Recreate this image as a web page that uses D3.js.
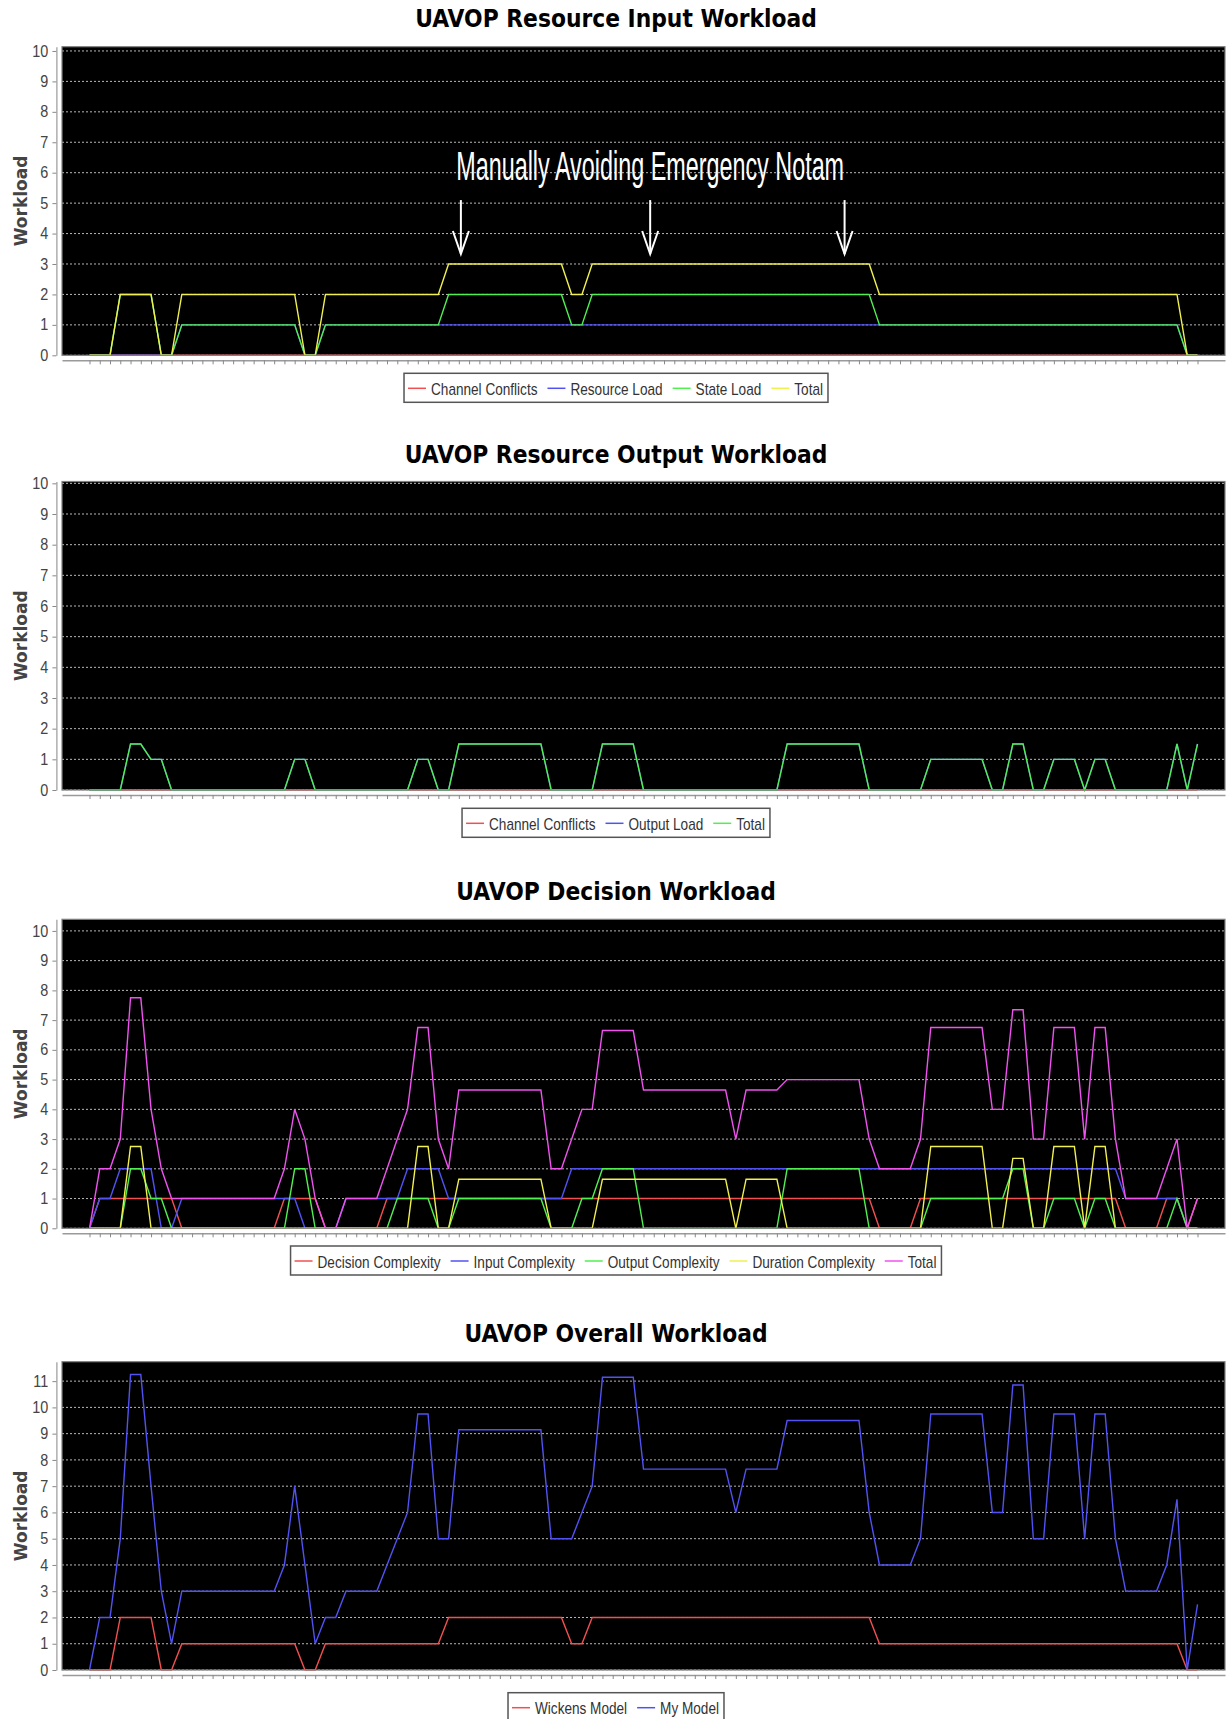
<!DOCTYPE html>
<html>
<head>
<meta charset="utf-8">
<script src="https://cdn.jsdelivr.net/npm/d3@7"></script>
<style>
  html, body { margin: 0; padding: 0; background: #fff; }
  svg { display: block; }
</style>
</head>
<body>
<svg id="chart" width="1231" height="1719"></svg>
<script>
// Simulation time steps (unlabelled categories on the x axis)
const steps = d3.range(109);

// ---- UAVOP Resource Input Workload ----
const inputChannelConflicts = [
  0,0,0,0,0,0,0,0,0,0, 0,0,0,0,0,0,0,0,0,0, 0,0,0,0,0,0,0,0,0,0,
  0,0,0,0,0,0,0,0,0,0, 0,0,0,0,0,0,0,0,0,0, 0,0,0,0,0,0,0,0,0,0,
  0,0,0,0,0,0,0,0,0,0, 0,0,0,0,0,0,0,0,0,0, 0,0,0,0,0,0,0,0,0,0,
  0,0,0,0,0,0,0,0,0,0, 0,0,0,0,0,0,0,0,0
];
const inputResourceLoad = [
  0,0,0,0,0,0,0,0,0,1,
  1,1,1,1,1,1,1,1,1,1,
  1,0,0,1,1,1,1,1,1,1,
  1,1,1,1,1,1,1,1,1,1,
  1,1,1,1,1,1,1,1,1,1,
  1,1,1,1,1,1,1,1,1,1,
  1,1,1,1,1,1,1,1,1,1,
  1,1,1,1,1,1,1,1,1,1,
  1,1,1,1,1,1,1,1,1,1,
  1,1,1,1,1,1,1,1,1,1,
  1,1,1,1,1,1,1,0,0
];
const inputStateLoad = [
  0,0,0,2,2,2,2,0,0,1,
  1,1,1,1,1,1,1,1,1,1,
  1,0,0,1,1,1,1,1,1,1,
  1,1,1,1,1,2,2,2,2,2,
  2,2,2,2,2,2,2,1,1,2,
  2,2,2,2,2,2,2,2,2,2,
  2,2,2,2,2,2,2,2,2,2,
  2,2,2,2,2,2,2,1,1,1,
  1,1,1,1,1,1,1,1,1,1,
  1,1,1,1,1,1,1,1,1,1,
  1,1,1,1,1,1,1,0,0
];
const inputTotal = [
  0,0,0,2,2,2,2,0,0,2,
  2,2,2,2,2,2,2,2,2,2,
  2,0,0,2,2,2,2,2,2,2,
  2,2,2,2,2,3,3,3,3,3,
  3,3,3,3,3,3,3,2,2,3,
  3,3,3,3,3,3,3,3,3,3,
  3,3,3,3,3,3,3,3,3,3,
  3,3,3,3,3,3,3,2,2,2,
  2,2,2,2,2,2,2,2,2,2,
  2,2,2,2,2,2,2,2,2,2,
  2,2,2,2,2,2,2,0,0
];

// ---- UAVOP Resource Output Workload ----
const outputChannelConflicts = [
  0,0,0,0,0,0,0,0,0,0, 0,0,0,0,0,0,0,0,0,0, 0,0,0,0,0,0,0,0,0,0,
  0,0,0,0,0,0,0,0,0,0, 0,0,0,0,0,0,0,0,0,0, 0,0,0,0,0,0,0,0,0,0,
  0,0,0,0,0,0,0,0,0,0, 0,0,0,0,0,0,0,0,0,0, 0,0,0,0,0,0,0,0,0,0,
  0,0,0,0,0,0,0,0,0,0, 0,0,0,0,0,0,0,0,0
];
const outputLoad = [
  0,0,0,0,1.5,1.5,1,1,0,0,
  0,0,0,0,0,0,0,0,0,0,
  1,1,0,0,0,0,0,0,0,0,
  0,0,1,1,0,0,1.5,1.5,1.5,1.5,
  1.5,1.5,1.5,1.5,1.5,0,0,0,0,0,
  1.5,1.5,1.5,1.5,0,0,0,0,0,0,
  0,0,0,0,0,0,0,0,1.5,1.5,
  1.5,1.5,1.5,1.5,1.5,1.5,0,0,0,0,
  0,0,1,1,1,1,1,1,0,0,
  1.5,1.5,0,0,1,1,1,0,1,1,
  0,0,0,0,0,0,1.5,0,1.5
];
const outputTotal = [
  0,0,0,0,1.5,1.5,1,1,0,0,
  0,0,0,0,0,0,0,0,0,0,
  1,1,0,0,0,0,0,0,0,0,
  0,0,1,1,0,0,1.5,1.5,1.5,1.5,
  1.5,1.5,1.5,1.5,1.5,0,0,0,0,0,
  1.5,1.5,1.5,1.5,0,0,0,0,0,0,
  0,0,0,0,0,0,0,0,1.5,1.5,
  1.5,1.5,1.5,1.5,1.5,1.5,0,0,0,0,
  0,0,1,1,1,1,1,1,0,0,
  1.5,1.5,0,0,1,1,1,0,1,1,
  0,0,0,0,0,0,1.5,0,1.5
];

// ---- UAVOP Decision Workload ----
const decisionComplexity = [
  0,1,1,1,1,1,1,1,1,0,
  0,0,0,0,0,0,0,0,0,1,
  1,1,1,0,0,0,0,0,0,1,
  1,1,1,1,1,1,1,1,1,1,
  1,1,1,1,1,1,1,1,1,1,
  1,1,1,1,1,1,1,1,1,1,
  1,1,1,1,1,1,1,1,1,1,
  1,1,1,1,1,1,1,0,0,0,
  0,1,1,1,1,1,1,1,1,1,
  1,1,1,1,1,1,1,1,1,1,
  1,0,0,0,0,1,1,0,1
];
const inputComplexity = [
  0,1,1,2,2,2,2,0,0,1,
  1,1,1,1,1,1,1,1,1,1,
  1,0,0,0,0,1,1,1,1,1,
  1,2,2,2,2,1,1,1,1,1,
  1,1,1,1,1,1,1,2,2,2,
  2,2,2,2,2,2,2,2,2,2,
  2,2,2,2,2,2,2,2,2,2,
  2,2,2,2,2,2,2,2,2,2,
  2,2,2,2,2,2,2,2,2,2,
  2,2,2,2,2,2,2,2,2,2,
  2,1,1,1,1,1,1,0,0
];
const outputComplexity = [
  0,0,0,0,2,2,1,1,0,0,
  0,0,0,0,0,0,0,0,0,0,
  2,2,0,0,0,0,0,0,0,0,
  1,1,1,1,0,0,1,1,1,1,
  1,1,1,1,1,0,0,0,1,1,
  2,2,2,2,0,0,0,0,0,0,
  0,0,0,0,0,0,0,0,2,2,
  2,2,2,2,2,2,0,0,0,0,
  0,0,1,1,1,1,1,1,1,1,
  2,2,0,0,1,1,1,0,1,1,
  0,0,0,0,0,0,1,0,0
];
const durationComplexity = [
  0,0,0,0,2.75,2.75,0,0,0,0,
  0,0,0,0,0,0,0,0,0,0,
  0,0,0,0,0,0,0,0,0,0,
  0,0,2.75,2.75,0,0,1.65,1.65,1.65,1.65,
  1.65,1.65,1.65,1.65,1.65,0,0,0,0,0,
  1.65,1.65,1.65,1.65,1.65,1.65,1.65,1.65,1.65,1.65,
  1.65,1.65,1.65,0,1.65,1.65,1.65,1.65,0,0,
  0,0,0,0,0,0,0,0,0,0,
  0,0,2.75,2.75,2.75,2.75,2.75,2.75,0,0,
  2.35,2.35,0,0,2.75,2.75,2.75,0,2.75,2.75,
  0,0,0,0,0,0,0,0,0
];
const decisionTotal = [
  0,2,2,3,7.75,7.75,4,2,1,1,
  1,1,1,1,1,1,1,1,1,2,
  4,3,1,0,0,1,1,1,1,2,
  3,4,6.75,6.75,3,2,4.65,4.65,4.65,4.65,
  4.65,4.65,4.65,4.65,4.65,2,2,3,4,4,
  6.65,6.65,6.65,6.65,4.65,4.65,4.65,4.65,4.65,4.65,
  4.65,4.65,4.65,3,4.65,4.65,4.65,4.65,5,5,
  5,5,5,5,5,5,3,2,2,2,
  2,3,6.75,6.75,6.75,6.75,6.75,6.75,4,4,
  7.35,7.35,3,3,6.75,6.75,6.75,3,6.75,6.75,
  3,1,1,1,1,2,3,0,1
];

// ---- UAVOP Overall Workload ----
const wickensModel = [
  0,0,0,2,2,2,2,0,0,1,
  1,1,1,1,1,1,1,1,1,1,
  1,0,0,1,1,1,1,1,1,1,
  1,1,1,1,1,2,2,2,2,2,
  2,2,2,2,2,2,2,1,1,2,
  2,2,2,2,2,2,2,2,2,2,
  2,2,2,2,2,2,2,2,2,2,
  2,2,2,2,2,2,2,1,1,1,
  1,1,1,1,1,1,1,1,1,1,
  1,1,1,1,1,1,1,1,1,1,
  1,1,1,1,1,1,1,0,0
];
const myModel = [
  0,2,2,5,11.25,11.25,7,3,1,3,
  3,3,3,3,3,3,3,3,3,4,
  7,4,1,2,2,3,3,3,3,4,
  5,6,9.75,9.75,5,5,9.15,9.15,9.15,9.15,
  9.15,9.15,9.15,9.15,9.15,5,5,5,6,7,
  11.15,11.15,11.15,11.15,7.65,7.65,7.65,7.65,7.65,7.65,
  7.65,7.65,7.65,6,7.65,7.65,7.65,7.65,9.5,9.5,
  9.5,9.5,9.5,9.5,9.5,9.5,6,4,4,4,
  4,5,9.75,9.75,9.75,9.75,9.75,9.75,6,6,
  10.85,10.85,5,5,9.75,9.75,9.75,5,9.75,9.75,
  5,3,3,3,3,4,6.5,0,2.5
];

// Y tick values
const ticksTo10 = [0,1,2,3,4,5,6,7,8,9,10];
const ticksTo11 = [0,1,2,3,4,5,6,7,8,9,10,11];

// Annotation on the input chart: label plus arrows (step position, value)
const noteText = "Manually Avoiding Emergency Notam";
const noteArrowSteps = [36.2, 54.65, 73.6];
const noteArrowTail = 5.1, noteArrowTip = 3.33, noteTextValue = 5.76;

// Series palette
const RED = "#f25050", BLUE = "#5252f2", GREEN = "#50f050", YELLOW = "#f0f050", MAGENTA = "#f052f0";

const panels = [
  { title: "UAVOP Resource Input Workload", titleY: 27, top: 46.7, bottom: 355.3, ymax: 10.14,
    ticks: ticksTo10, legendY: 373.3, note: true,
    series: [
      { name: "Channel Conflicts", values: inputChannelConflicts, color: RED },
      { name: "Resource Load", values: inputResourceLoad, color: BLUE },
      { name: "State Load", values: inputStateLoad, color: GREEN },
      { name: "Total", values: inputTotal, color: YELLOW }
    ] },
  { title: "UAVOP Resource Output Workload", titleY: 462.7, top: 481.5, bottom: 790, ymax: 10.06,
    ticks: ticksTo10, legendY: 808.3,
    series: [
      { name: "Channel Conflicts", values: outputChannelConflicts, color: RED },
      { name: "Output Load", values: outputLoad, color: BLUE },
      { name: "Total", values: outputTotal, color: GREEN }
    ] },
  { title: "UAVOP Decision Workload", titleY: 900, top: 919.3, bottom: 1228.3, ymax: 10.39,
    ticks: ticksTo10, legendY: 1246,
    series: [
      { name: "Decision Complexity", values: decisionComplexity, color: RED },
      { name: "Input Complexity", values: inputComplexity, color: BLUE },
      { name: "Output Complexity", values: outputComplexity, color: GREEN },
      { name: "Duration Complexity", values: durationComplexity, color: YELLOW },
      { name: "Total", values: decisionTotal, color: MAGENTA }
    ] },
  { title: "UAVOP Overall Workload", titleY: 1342.3, top: 1361.7, bottom: 1670, ymax: 11.74,
    ticks: ticksTo11, legendY: 1692.7,
    series: [
      { name: "Wickens Model", values: wickensModel, color: RED },
      { name: "My Model", values: myModel, color: BLUE }
    ] }
];

const plotLeft = 62, plotRight = 1225, centerX = 616, yAxisX = 56.4;
const SQ = 0.85;      // horizontal squeeze for the narrow label face
const TICK_SQ = 0.9;  // squeeze for the y tick numbers

const svg = d3.select("#chart");
const x = d3.scalePoint().domain(steps).range([plotLeft, plotRight]).padding(2.68);
const xAt = s => x(Math.floor(s)) + (s - Math.floor(s)) * x.step();

panels.forEach(p => {
  const g = svg.append("g");
  const y = d3.scaleLinear().domain([0, p.ymax]).range([p.bottom, p.top]);

  // title
  g.append("text")
    .attr("transform", `translate(${centerX},${p.titleY}) scale(0.91,1)`)
    .attr("text-anchor", "middle")
    .attr("font-family", "DejaVu Sans").attr("font-weight", "bold").attr("font-size", 24)
    .attr("fill", "#000").text(p.title);

  // plot background
  g.append("rect").attr("x", plotLeft).attr("y", p.top)
    .attr("width", plotRight - plotLeft).attr("height", p.bottom - p.top).attr("fill", "#000");

  // dotted horizontal grid
  g.append("g").selectAll("line").data(p.ticks).join("line")
    .attr("x1", plotLeft).attr("x2", plotRight)
    .attr("y1", d => y(d)).attr("y2", d => y(d))
    .attr("stroke", "#b8b8b8").attr("stroke-width", 1).attr("stroke-dasharray", "2,2");

  // series lines
  const line = d3.line().x((d, i) => x(steps[i])).y(d => y(d));
  p.series.forEach(s => {
    g.append("path").attr("d", line(s.values))
      .attr("fill", "none").attr("stroke", s.color).attr("stroke-width", 1.4);
  });

  // annotation
  if (p.note) {
    const mid = noteArrowSteps[1];
    g.append("text")
      .attr("transform", `translate(${xAt(mid)},${y(noteTextValue)}) scale(0.57,1)`)
      .attr("text-anchor", "middle")
      .attr("font-family", "Liberation Sans").attr("font-size", 41)
      .attr("fill", "#fff").text(noteText);
    noteArrowSteps.forEach(s => {
      const ax = xAt(s), y0 = y(noteArrowTail), y1 = y(noteArrowTip);
      g.append("line").attr("x1", ax).attr("x2", ax).attr("y1", y0).attr("y2", y1)
        .attr("stroke", "#fff").attr("stroke-width", 2);
      g.append("path").attr("d", `M${ax - 8},${y1 - 23}L${ax},${y1}L${ax + 8},${y1 - 23}`)
        .attr("fill", "none").attr("stroke", "#fff").attr("stroke-width", 2);
    });
  }

  // plot outline
  g.append("rect").attr("x", plotLeft).attr("y", p.top)
    .attr("width", plotRight - plotLeft).attr("height", p.bottom - p.top)
    .attr("fill", "none").attr("stroke", "#808080").attr("stroke-width", 1.2);

  // y axis
  const ya = g.append("g").attr("transform", `translate(${yAxisX},0)`)
    .call(d3.axisLeft(y).tickValues(p.ticks).tickSize(4).tickSizeOuter(0).tickFormat(d3.format("d")));
  ya.select(".domain").attr("stroke", "#999").attr("stroke-width", 1.2);
  ya.selectAll(".tick line").attr("stroke", "#888");
  ya.selectAll(".tick text")
    .attr("x", -8.1 / TICK_SQ).attr("transform", `scale(${TICK_SQ},1)`)
    .attr("font-family", "Liberation Sans").attr("font-size", 16).attr("fill", "#444");

  // y axis title
  g.append("text")
    .attr("transform", `translate(26.5,${(p.top + p.bottom) / 2}) rotate(-90)`)
    .attr("text-anchor", "middle")
    .attr("font-family", "DejaVu Sans").attr("font-weight", "bold").attr("font-size", 17)
    .attr("fill", "#444").text("Workload");

  // x axis (category ticks, no labels)
  const xa = g.append("g").attr("transform", `translate(0,${p.bottom + 5})`)
    .call(d3.axisBottom(x).tickSize(4).tickSizeOuter(0).tickFormat(""));
  xa.select(".domain").attr("stroke", "#9a9a9a").attr("stroke-width", 1.6);
  xa.selectAll(".tick line").attr("stroke", "#888");

  // legend
  const lg = g.append("g").attr("transform", `translate(0,${p.legendY})`);
  const box = lg.append("rect");
  const items = lg.append("g");
  let cx = 0;
  p.series.forEach((s, i) => {
    if (i > 0) cx += 10;
    items.append("line").attr("x1", cx).attr("x2", cx + 18).attr("y1", 15).attr("y2", 15)
      .attr("stroke", s.color).attr("stroke-width", 1.5);
    cx += 23;
    const t = items.append("text")
      .attr("transform", `translate(${cx},21.5) scale(${SQ},1)`)
      .attr("font-family", "Liberation Sans").attr("font-size", 16)
      .attr("fill", "#333").text(s.name);
    cx += t.node().getComputedTextLength() * SQ;
  });
  const w = cx + 9;
  const left = centerX - w / 2;
  items.attr("transform", `translate(${left + 4},0)`);
  box.attr("x", left).attr("y", 0).attr("width", w).attr("height", 29)
    .attr("fill", "#fff").attr("stroke", "#555").attr("stroke-width", 1.5);
});
</script>
</body>
</html>
